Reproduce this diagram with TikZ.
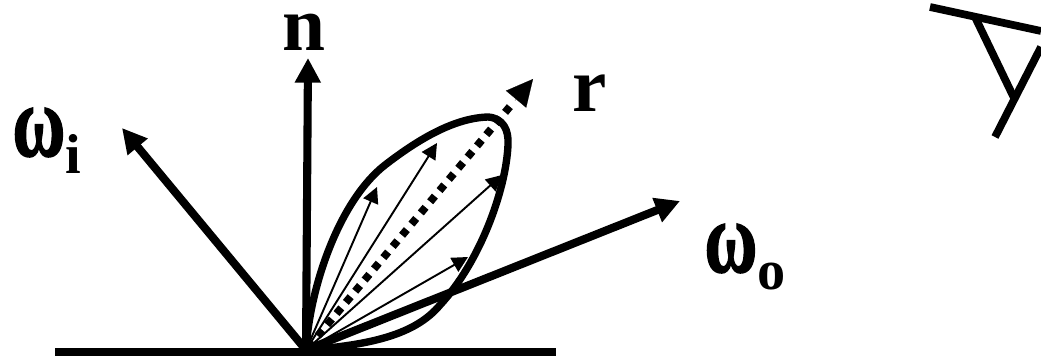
\documentclass[tikz,border=0pt]{standalone}
\usepackage{fontspec}
\setmainfont{Liberation Serif}
\newfontfamily\heavyomega[FakeBold=1.6]{Liberation Serif Bold}
\usepackage{tikz}
\usetikzlibrary{arrows.meta,positioning,calc}
\tikzset{
  bigarrow/.style={line width=4.6pt,-{Triangle[length=14pt,width=14pt]}},
  thinarrow/.style={line width=1.1pt,-{Triangle[length=9pt,width=9pt]}},
  lobeline/.style={line width=4.2pt,line join=round},
  eyeline/.style={line width=4.4pt},
  biglabel/.style={font=\fontsize{44}{44}\selectfont\bfseries,inner sep=0pt}
}
\newcommand{\tallomega}{\scalebox{0.94}[1.32]{\heavyomega ω}}
\newcommand{\lowidx}[1]{\raisebox{-10pt}{\fontsize{32}{32}\selectfont\bfseries #1}}
\begin{document}
\begin{tikzpicture}[x=0.02cm,y=-0.02cm]
\useasboundingbox (0,0) rectangle (1041,358);
\coordinate (hit) at (306,350);
\coordinate (floorL) at (55,352);
\coordinate (floorR) at (556,352);
\coordinate (nTip) at (308,58);
\coordinate (iTip) at (122,128);
\coordinate (oTip) at (680,201);
\coordinate (rTip) at (533,79);
% floor and main directions
\draw[eyeline] (floorL) -- (floorR);
\draw[bigarrow] (hit) -- (nTip);
\draw[bigarrow] (hit) -- (iTip);
\draw[bigarrow] (hit) -- (oTip);
% lobe
\draw[lobeline] (hit) .. controls (310,285) and (340,200) .. (385,165)
  .. controls (420,138) and (455,118) .. (488,117)
  .. controls (503,118) and (509,130) .. (508,145)
  .. controls (506,190) and (480,262) .. (440,305)
  .. controls (415,335) and (370,345) .. (hit);
% samples
\coordinate (a1) at (377,187);
\coordinate (a2) at (437,143);
\coordinate (a3) at (502,175);
\coordinate (a4) at (468,257);
\foreach \tip in {a1,a2,a3,a4}
  \draw[thinarrow] (hit) -- (\tip);
% reflection direction
\coordinate (rEnd) at ($(hit)!0.9!(rTip)$);
\coordinate (rBase) at ($(hit)!0.92!(rTip)$);
\draw[line width=4.4pt,dash pattern=on 4.2pt off 4.1pt,dash phase=6.14pt] (hit) -- (rEnd);
\draw[-{Triangle[length=15pt,width=15pt]},line width=0.1pt] (rBase) -- (rTip);
% viewer
\coordinate (eyeA) at (930,7);
\coordinate (eyeB) at (1041,31);
\coordinate (eyeC) at (975,17);
\coordinate (eyeD) at (1015,100);
\coordinate (eyeE) at (1041,47);
\coordinate (eyeF) at (995,137);
\draw[eyeline] (eyeA) -- (eyeB);
\draw[eyeline] (eyeC) -- (eyeD);
\draw[eyeline] (eyeE) -- (eyeF);
% labels
\node[biglabel] (nLabel) at (304,32) {n};
\node[biglabel] (rLabel) at (590,93) {r};
\node[biglabel,anchor=base west] (iLabel) at (12,156) {\tallomega\lowidx{i}};
\node[biglabel,anchor=base west] (oLabel) at (704,272) {\tallomega\lowidx{o}};
\end{tikzpicture}
\end{document}
